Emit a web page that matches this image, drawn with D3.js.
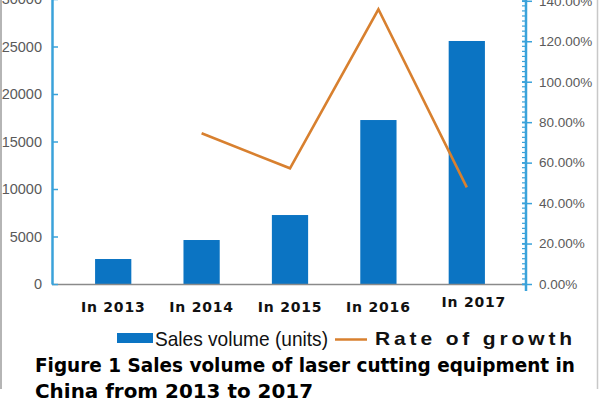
<!DOCTYPE html>
<html>
<head>
<meta charset="utf-8">
<script src="https://cdn.jsdelivr.net/npm/d3@7"></script>
<style>
  html, body { margin: 0; padding: 0; background: #fff; }
  svg { display: block; }
</style>
</head>
<body>
<svg id="chart" width="599" height="401"></svg>
<script>
const years = ["In 2013", "In 2014", "In 2015", "In 2016", "In 2017"];
const salesVolume = [2630, 4630, 7260, 17260, 25580];
const growthRate = [null, 0.745, 0.572, 1.358, 0.478];
const leftTicks = [0, 5000, 10000, 15000, 20000, 25000, 30000];
const rightTicks = [0, 0.2, 0.4, 0.6, 0.8, 1.0, 1.2, 1.4];
const legendLabels = ["Sales volume (units)", "Rate of growth"];
const titleLines = ["Figure 1 Sales volume of laser cutting equipment in", "China from 2013 to 2017"];

const svg = d3.select("#chart");
const barColor = "#0b74c3";
const axisColor = "#3aa2da";
const lineColor = "#d8802f";
const labelColor = "#5a5a5a";

const x0 = 52, x1 = 526, yBase = 284;

const x = d3.scaleBand().domain(years).range([69, 511]).paddingInner(0.59).paddingOuter(0.295);
const y = d3.scaleLinear().domain([0, 30000]).range([yBase, -1]);
const yR = d3.scaleLinear().domain([0, 1.4]).range([yBase, 0.8]);

// frame lines
svg.append("line").attr("x1", 1).attr("x2", 1).attr("y1", 0).attr("y2", 389)
  .attr("stroke", "#b5b5b5").attr("stroke-width", 2);
svg.append("line").attr("x1", 597.5).attr("x2", 597.5).attr("y1", 0).attr("y2", 389)
  .attr("stroke", "#c8c8c8").attr("stroke-width", 1.5);

// bars
svg.append("g").selectAll("rect").data(years).join("rect")
  .attr("x", d => x(d))
  .attr("width", x.bandwidth())
  .attr("y", (d, i) => y(salesVolume[i]))
  .attr("height", (d, i) => yBase - y(salesVolume[i]))
  .attr("fill", barColor);

// baseline
svg.append("line").attr("x1", x0).attr("x2", x1).attr("y1", yBase + 0.5).attr("y2", yBase + 0.5)
  .attr("stroke", "#8a8a8a").attr("stroke-width", 1.5);

// left axis
const gl = svg.append("g").attr("transform", `translate(${x0},0)`)
  .call(d3.axisLeft(y).tickValues(leftTicks).tickFormat(d3.format("d"))
    .tickSizeInner(-6).tickSizeOuter(0).tickPadding(10));
gl.select(".domain").attr("stroke", axisColor).attr("stroke-width", 2.5);
gl.selectAll(".tick line").attr("stroke", axisColor).attr("stroke-width", 1.5);
gl.selectAll(".tick text").attr("fill", labelColor)
  .style("font-family", "'Liberation Sans', Arial, sans-serif").style("font-size", "14.5px");

// right axis minor ticks
const minor = d3.range(0, 1.4001, 0.025);
svg.append("g").selectAll("line").data(minor).join("line")
  .attr("x1", x1 - 4).attr("x2", x1)
  .attr("y1", d => yR(d)).attr("y2", d => yR(d))
  .attr("stroke", axisColor).attr("stroke-width", 1.2);

// right axis
const gr = svg.append("g").attr("transform", `translate(${x1},0)`)
  .call(d3.axisRight(yR).tickValues(rightTicks).tickFormat(d3.format(".2%"))
    .tickSizeInner(6).tickSizeOuter(0).tickPadding(7));
gr.select(".domain").remove();
gr.append("line").attr("x1", 0).attr("x2", 0).attr("y1", 0).attr("y2", 291)
  .attr("stroke", axisColor).attr("stroke-width", 2.5);
gr.selectAll(".tick line").attr("x1", -4).attr("stroke", axisColor).attr("stroke-width", 1.5);
gr.selectAll(".tick text").attr("fill", labelColor)
  .style("font-family", "'Liberation Sans', Arial, sans-serif").style("font-size", "13.5px");

// growth line
const line = d3.line()
  .defined(d => d.v != null)
  .x(d => x(d.k) + x.bandwidth() / 2)
  .y(d => yR(d.v));
svg.append("path")
  .datum(years.map((k, i) => ({ k, v: growthRate[i] })))
  .attr("d", line)
  .attr("fill", "none")
  .attr("stroke", lineColor)
  .attr("stroke-width", 2.6)
  .attr("stroke-linejoin", "miter");

// x labels
svg.append("g").selectAll("text").data(years).join("text")
  .attr("x", (d, i) => x(d) + x.bandwidth() / 2 + (i === 4 ? 7 : 0))
  .attr("y", (d, i) => i === 4 ? 307 : 311.5)
  .attr("text-anchor", "middle")
  .attr("fill", "#111")
  .style("font-family", "'DejaVu Sans', Verdana, sans-serif")
  .style("font-weight", "bold")
  .style("font-size", "14px")
  .style("letter-spacing", "0.8px")
  .text(d => d);

// legend
svg.append("rect").attr("x", 117).attr("y", 333).attr("width", 36).attr("height", 10).attr("fill", barColor);
svg.append("text").attr("x", 155).attr("y", 346)
  .attr("textLength", 173).attr("lengthAdjust", "spacingAndGlyphs")
  .attr("fill", "#111")
  .style("font-family", "'Liberation Sans Narrow', 'Liberation Sans', Arial, sans-serif")
  .style("font-size", "21px")
  .text(legendLabels[0]);
svg.append("line").attr("x1", 335).attr("x2", 367).attr("y1", 339.5).attr("y2", 339.5)
  .attr("stroke", lineColor).attr("stroke-width", 2.5);
svg.append("text").attr("x", 375).attr("y", 345)
  .attr("textLength", 201).attr("lengthAdjust", "spacingAndGlyphs")
  .attr("fill", "#111")
  .style("font-family", "'Liberation Sans', Arial, sans-serif")
  .style("font-weight", "bold")
  .style("font-size", "19px")
  .style("letter-spacing", "3.5px")
  .text(legendLabels[1]);

// title
svg.append("text").attr("x", 35).attr("y", 372)
  .attr("textLength", 540).attr("lengthAdjust", "spacingAndGlyphs")
  .attr("fill", "#000")
  .style("font-family", "'DejaVu Sans', Verdana, sans-serif")
  .style("font-weight", "bold")
  .style("font-size", "20px")
  .text(titleLines[0]);
svg.append("text").attr("x", 35).attr("y", 398)
  .attr("textLength", 278).attr("lengthAdjust", "spacingAndGlyphs")
  .attr("fill", "#000")
  .style("font-family", "'DejaVu Sans', Verdana, sans-serif")
  .style("font-weight", "bold")
  .style("font-size", "20px")
  .text(titleLines[1]);
</script>
</body>
</html>
